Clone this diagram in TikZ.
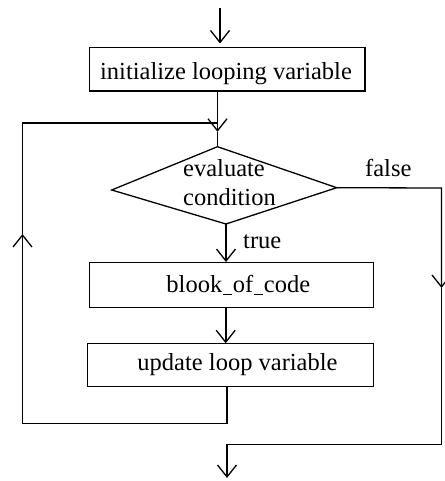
\documentclass[tikz,border=0pt]{standalone}
\usepackage{fontspec}
\newfontfamily\dfont{Liberation Serif}
\usetikzlibrary{arrows.meta}
\newcommand\narrowus{\hspace{0.8pt}\rule[-3.2pt]{9pt}{1.4pt}\hspace{0.8pt}}
\begin{document}
\begin{tikzpicture}[x=1pt,y=-1pt,
  box/.style={draw,line width=1.3pt,minimum width=#1,inner sep=0pt},
  txt/.style={inner sep=0pt,anchor=base,font=\dfont\fontsize{24.5}{28}\selectfont},
  thinline/.style={line width=1.3pt},
  thickline/.style={line width=1.9pt},
  barb/.style={-{Straight Barb[length=12pt,width=19pt,line width=1.3pt]}}
]
\useasboundingbox (0,0) rectangle (444,481);
\fill[white] (0,0) rectangle (444,481);

% boxes
\node[box=275.7pt,minimum height=43.7pt] (b1) at (227.2,69.2) {};
\node[box=284pt,minimum height=44.6pt] (b2) at (231.3,285) {};
\node[box=286pt,minimum height=43.4pt] (b3) at (230.3,365) {};

% diamond
\coordinate (dT) at (217.5,146.7);
\coordinate (dL) at (111.7,190);
\coordinate (dR) at (336.7,187.7);
\coordinate (dB) at (226,224);
\draw[thinline,line join=miter] (dT) -- (dR) -- (dB) -- (dL) -- cycle;

% texts
\node[txt] (t1) at (226,80) {initialize looping variable};
\node[txt] (t2a) at (224,176.7) {evaluate};
\node[txt] (t2b) at (229.5,205.5) {condition};
\node[txt] (t3) at (238.3,292) {blook\narrowus of\narrowus code};
\node[txt] (t4) at (237.5,370) {update loop variable};
\node[txt,anchor=base west] (ltrue) at (243,248) {true};
\node[txt,anchor=base west] (lfalse) at (365,176.7) {false};

% coordinates for connectors
\coordinate (start) at (220,8);
\coordinate (starttip) at (220,43.5);
\coordinate (b1out) at (217.5,91);
\coordinate (jtip) at (217.5,131.8);
\coordinate (loopTL) at (22.5,123);
\coordinate (loopBL) at (22.5,423.3);
\coordinate (loopBR) at (227,423.3);
\coordinate (uptip) at (22.5,234);
\coordinate (b3out) at (227,386.7);
\coordinate (fTR) at (441.5,188);
\coordinate (downtip) at (441.5,288);
\coordinate (fBR) at (441.5,444.3);
\coordinate (fBL) at (227,444.3);
\coordinate (endtip) at (227,478);

% main flow
\draw[thickline,barb] (start) -- (starttip);
\draw[thickline,barb] (b1out) -- (jtip);
\draw[thinline] (jtip) -- (dT);
\draw[thickline,barb] (dB) -- (dB |- b2.north);
\draw[thickline,barb] (b2.south -| 225.7,0) -- (225.7,343.3);

% loop back
\draw[thinline,barb] (b3out) -- (loopBR) -- (loopBL) -- (uptip);
\draw[thinline] (uptip) -- (loopTL) -- (loopTL -| jtip);

% false exit
\draw[thinline,barb] (dR) -- (fTR) -- (downtip);
\draw[thinline] (downtip) -- (fBR) -- (fBL);
\draw[thinline,barb] (fBL) -- (endtip);
\end{tikzpicture}
\end{document}
